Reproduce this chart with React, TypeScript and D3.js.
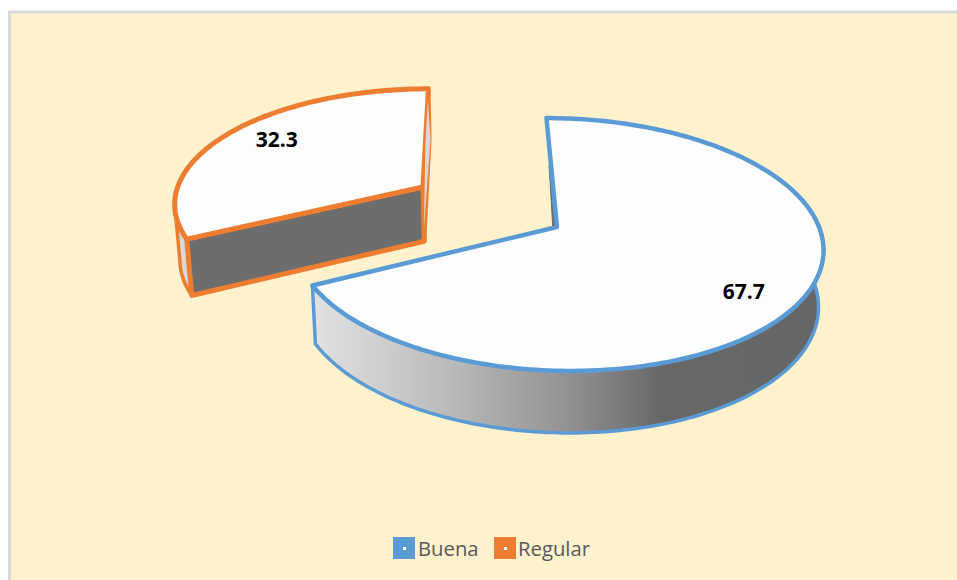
import React from "react";
import * as d3 from "d3";

const categories = ["Buena", "Regular"];
const seriesValues = [67.7, 32.3];
const colors = ["#5b9bd5", "#ed7d31"];
const labelFill = "#000000";

const W = 957, H = 580;
const OX = 557, OY = 227, RX = 262, RY = 124, P = 0.1384, SKEW = 12;
const EXPLODE: [number, number][] = [[0, 0], [-0.52, -0.3377]];
const RADII = [1, 0.98];

type Pt = [number, number];
// disc coordinates -> screen (perspective)
const project = (u: number, v: number): Pt => {
  const s = 1 / (1 - P * v);
  return [OX + (RX * u + SKEW * v) * s, OY + RY * v * s];
};
// top-face screen point -> matching point on the bottom of the extrusion
const drop = ([x, y]: Pt): Pt => [x - (x - 504) * 0.0156, y + 50 + (y - 88) * 0.0424];
const lerp = (a: Pt, b: Pt, t: number): Pt => [a[0] + (b[0] - a[0]) * t, a[1] + (b[1] - a[1]) * t];

const rimPoint = (a: number, r: number, e: [number, number]): Pt =>
  project(e[0] + r * Math.sin(a), e[1] - r * Math.cos(a));

const arcPts = (a0: number, a1: number, e: [number, number], r = 1): Pt[] => {
  const n = Math.max(2, Math.ceil(Math.abs(a1 - a0) / 0.02));
  return d3.range(n + 1).map((i) => rimPoint(a0 + ((a1 - a0) * i) / n, r, e));
};

const line = d3.line<Pt>().x((d) => d[0]).y((d) => d[1]);
const closed = (pts: Pt[]) => (line(pts) as string) + "Z";

const pieGen = d3.pie<number>().sort(null);
const slices = pieGen(seriesValues);

export default function App() {
  const [blue, orange] = slices;
  const eB = EXPLODE[0], eO = EXPLODE[1];

  // blue slice
  const bRim = arcPts(blue.startAngle, blue.endAngle, eB, RADII[0]);
  const bApex = project(eB[0], eB[1]);
  const bStart = bRim[0];
  const bFront = arcPts((82 * Math.PI) / 180, blue.endAngle, eB, RADII[0]);
  const bSide = [...bFront, ...bFront.map(drop).reverse()];
  const bNotch: Pt[] = [
    bApex,
    drop(bApex),
    [bStart[0] + (bApex[0] - bStart[0]) * 0.44 - 2, bStart[1] + (bApex[1] - bStart[1]) * 0.44],
  ];

  // orange slice
  const oRim = arcPts(orange.startAngle, orange.endAngle, eO, RADII[1]);
  const oApex = project(eO[0], eO[1]);
  const oStart = oRim[0], oEnd = oRim[oRim.length - 1];
  const oLeftArc = arcPts(orange.startAngle, orange.startAngle + 0.3, eO, RADII[1]);
  const oLeft = [...oLeftArc, ...oLeftArc.map(drop).reverse()];
  const bulge = drop(oEnd);
  const oSliver: Pt[] = [
    lerp(oEnd, oApex, 0.12),
    [bulge[0] + 1, bulge[1]],
    lerp(oApex, drop(oApex), 0.75),
    lerp(oEnd, oApex, 0.55),
  ];

  const bLabel = project(0.643, 0.4816);
  const oLabel = project(eO[0] - 0.63, eO[1] - 0.45);

  return (
    <svg width={W} height={H} viewBox={`0 0 ${W} ${H}`} style={{ position: "absolute", left: 0, top: 0, display: "block" }}>
      <defs>
        <linearGradient id="rim" gradientUnits="userSpaceOnUse" x1={312} x2={824} y1={0} y2={0}>
          <stop offset="0" stopColor="#e2e2e2" />
          <stop offset="0.25" stopColor="#bdbdbd" />
          <stop offset="0.5" stopColor="#929292" />
          <stop offset="0.68" stopColor="#686868" />
          <stop offset="1" stopColor="#666666" />
        </linearGradient>
      </defs>
      <rect width={W} height={H} fill="#ffffff" />
      <rect x={9.5} y={12} width={W} height={H} fill="#fff2cc" stroke="#d9d9d9" strokeWidth={3} />

      {/* Regular slice */}
      <path d={closed([oEnd, oApex, drop(oApex), drop(oEnd)])} fill="#d9d9d9" stroke={colors[1]} strokeWidth={4} strokeLinejoin="round" />
      <path d={closed(oLeft)} fill="#d9d9d9" stroke={colors[1]} strokeWidth={3.5} strokeLinejoin="round" />
      <path d={closed([oStart, oApex, drop(oApex), drop(oStart)])} fill="#6d6d6d" stroke={colors[1]} strokeWidth={5} strokeLinejoin="round" />
      <path d={closed([oApex, ...oRim])} fill="#fdfdfd" stroke={colors[1]} strokeWidth={5} strokeLinejoin="round" />
      <path d={closed(oSliver)} fill="#d9d9d9" />

      {/* Buena slice */}
      <path d={closed(bNotch)} fill="#6d6d6d" stroke="#6d6d6d" strokeWidth={1} />
      <path d={closed(bSide)} fill="url(#rim)" stroke={colors[0]} strokeWidth={3.5} strokeLinejoin="round" />
      <path d={closed([bApex, ...bRim])} fill="#fdfdfd" stroke={colors[0]} strokeWidth={4.5} strokeLinejoin="round" />

      <text x={bLabel[0]} y={bLabel[1]} textAnchor="middle" dominantBaseline="central" fontFamily="'Open Sans'" fontWeight={700} fontSize={21} fill={labelFill}>{seriesValues[0].toFixed(1)}</text>
      <text x={oLabel[0]} y={oLabel[1]} textAnchor="middle" dominantBaseline="central" fontFamily="'Open Sans'" fontWeight={700} fontSize={21} fill={labelFill}>{seriesValues[1].toFixed(1)}</text>

      {categories.map((c, i) => {
        const x = [393, 494][i];
        return (
          <g key={c}>
            <rect x={x} y={537} width={22} height={22} fill={colors[i]} />
            <rect x={x + 10} y={547} width={3} height={3} fill="#ffffff" />
            <text x={x + [25, 24][i]} y={556} fontFamily="'Open Sans'" fontSize={20.3} fill="#595959">{c}</text>
          </g>
        );
      })}
    </svg>
  );
}
